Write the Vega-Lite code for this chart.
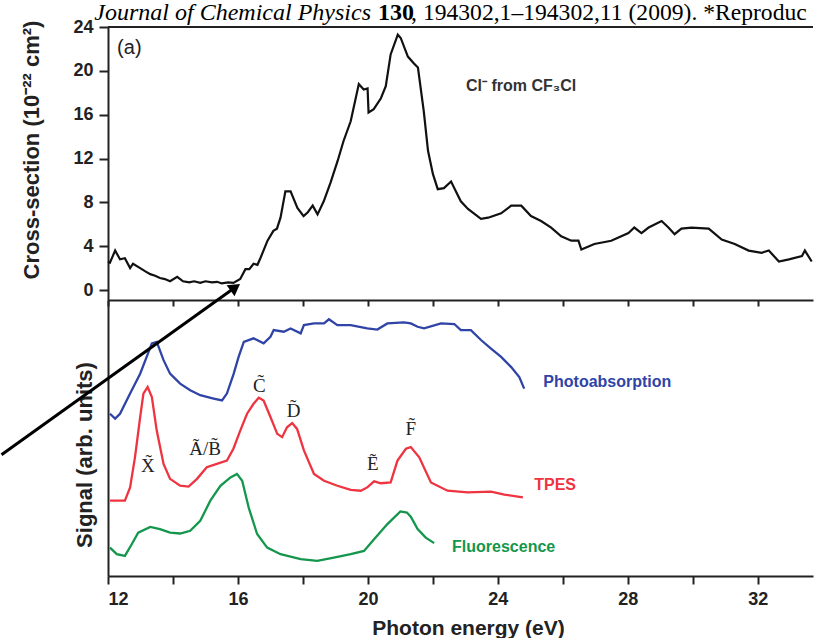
{
  "$schema": "https://vega.github.io/schema/vega-lite/v6.json",
  "background": "white",
  "padding": {"left": -5, "top": 1, "right": 0, "bottom": 0},
  "spacing": 0,
  "bounds": "flush",
  "config": {
    "view": {"stroke": null},
    "axis": {
      "grid": false,
      "domainColor": "#222",
      "domainWidth": 2,
      "tickColor": "#222",
      "tickWidth": 2,
      "labelFont": "Liberation Sans",
      "labelFontWeight": "bold",
      "labelFontSize": 18,
      "labelColor": "#222",
      "titleFont": "Liberation Sans",
      "titleFontWeight": "bold",
      "titleFontSize": 22,
      "titleColor": "#222"
    },
    "text": {"font": "Liberation Sans"}
  },
  "datasets": {
    "cs": [
      {"x": 12.0, "y": 2.6}, {"x": 12.06, "y": 2.5}, {"x": 12.22, "y": 3.6}, {"x": 12.37, "y": 2.8},
      {"x": 12.52, "y": 2.9}, {"x": 12.68, "y": 2.0}, {"x": 12.77, "y": 2.4}, {"x": 12.99, "y": 2.0},
      {"x": 13.15, "y": 1.7}, {"x": 13.3, "y": 1.45}, {"x": 13.45, "y": 1.3}, {"x": 13.6, "y": 1.1},
      {"x": 13.75, "y": 1.0}, {"x": 13.91, "y": 0.8}, {"x": 14.13, "y": 1.2}, {"x": 14.31, "y": 0.8},
      {"x": 14.5, "y": 0.7}, {"x": 14.65, "y": 0.8}, {"x": 14.84, "y": 0.65}, {"x": 15.0, "y": 0.8},
      {"x": 15.2, "y": 0.7}, {"x": 15.36, "y": 0.75}, {"x": 15.5, "y": 0.6}, {"x": 15.7, "y": 0.7},
      {"x": 15.86, "y": 0.65}, {"x": 16.07, "y": 1.0}, {"x": 16.23, "y": 1.9}, {"x": 16.35, "y": 1.9},
      {"x": 16.48, "y": 2.4}, {"x": 16.6, "y": 2.3}, {"x": 16.69, "y": 2.9}, {"x": 16.91, "y": 4.5},
      {"x": 17.09, "y": 5.4}, {"x": 17.2, "y": 5.6}, {"x": 17.31, "y": 6.6}, {"x": 17.46, "y": 9.0},
      {"x": 17.62, "y": 9.0}, {"x": 17.83, "y": 7.5}, {"x": 18.02, "y": 6.75}, {"x": 18.15, "y": 7.1},
      {"x": 18.3, "y": 7.7}, {"x": 18.45, "y": 6.9}, {"x": 18.64, "y": 8.1}, {"x": 18.85, "y": 9.8},
      {"x": 19.07, "y": 11.8}, {"x": 19.25, "y": 13.6}, {"x": 19.47, "y": 15.4}, {"x": 19.72, "y": 18.8},
      {"x": 19.87, "y": 18.3}, {"x": 19.99, "y": 18.4}, {"x": 20.02, "y": 16.2}, {"x": 20.18, "y": 16.5},
      {"x": 20.4, "y": 17.5}, {"x": 20.55, "y": 18.6}, {"x": 20.7, "y": 21.5}, {"x": 20.92, "y": 23.3},
      {"x": 21.01, "y": 23.0}, {"x": 21.23, "y": 21.3}, {"x": 21.41, "y": 20.7}, {"x": 21.54, "y": 20.3},
      {"x": 21.72, "y": 16.3}, {"x": 21.85, "y": 12.7}, {"x": 22.0, "y": 10.6}, {"x": 22.15, "y": 9.2},
      {"x": 22.34, "y": 9.3}, {"x": 22.56, "y": 9.9}, {"x": 22.71, "y": 9.0}, {"x": 22.86, "y": 8.1},
      {"x": 23.08, "y": 7.4}, {"x": 23.48, "y": 6.5}, {"x": 23.7, "y": 6.6}, {"x": 24.1, "y": 7.0},
      {"x": 24.41, "y": 7.7}, {"x": 24.72, "y": 7.7}, {"x": 25.02, "y": 6.75}, {"x": 25.33, "y": 6.3},
      {"x": 25.64, "y": 5.7}, {"x": 25.95, "y": 4.9}, {"x": 26.26, "y": 4.5}, {"x": 26.48, "y": 4.5},
      {"x": 26.57, "y": 3.7}, {"x": 26.97, "y": 4.2}, {"x": 27.49, "y": 4.5}, {"x": 28.02, "y": 5.2},
      {"x": 28.2, "y": 5.7}, {"x": 28.42, "y": 5.2}, {"x": 28.64, "y": 5.7}, {"x": 29.04, "y": 6.3},
      {"x": 29.25, "y": 5.7}, {"x": 29.44, "y": 5.1}, {"x": 29.65, "y": 5.6}, {"x": 29.96, "y": 5.7},
      {"x": 30.49, "y": 5.6}, {"x": 30.89, "y": 4.6}, {"x": 31.29, "y": 4.2}, {"x": 31.72, "y": 3.6},
      {"x": 32.12, "y": 3.4}, {"x": 32.34, "y": 3.6}, {"x": 32.65, "y": 2.6}, {"x": 32.96, "y": 2.8},
      {"x": 33.36, "y": 3.1}, {"x": 33.45, "y": 3.6}, {"x": 33.66, "y": 2.6}
    ],
    "sig": [
      {"series": "Photoabsorption", "x": 12.06, "y": 58.8}, {"series": "Photoabsorption", "x": 12.22, "y": 57.0},
      {"series": "Photoabsorption", "x": 12.37, "y": 58.8}, {"series": "Photoabsorption", "x": 12.68, "y": 66.1},
      {"series": "Photoabsorption", "x": 12.99, "y": 73.3}, {"series": "Photoabsorption", "x": 13.19, "y": 79.4},
      {"series": "Photoabsorption", "x": 13.35, "y": 84.3}, {"series": "Photoabsorption", "x": 13.5, "y": 84.8},
      {"series": "Photoabsorption", "x": 13.71, "y": 78.2}, {"series": "Photoabsorption", "x": 13.91, "y": 73.3},
      {"series": "Photoabsorption", "x": 14.22, "y": 69.7}, {"series": "Photoabsorption", "x": 14.53, "y": 67.3},
      {"series": "Photoabsorption", "x": 14.84, "y": 65.5}, {"series": "Photoabsorption", "x": 15.25, "y": 64.3},
      {"series": "Photoabsorption", "x": 15.51, "y": 63.6}, {"series": "Photoabsorption", "x": 15.66, "y": 66.1},
      {"series": "Photoabsorption", "x": 15.87, "y": 73.3}, {"series": "Photoabsorption", "x": 16.02, "y": 79.4},
      {"series": "Photoabsorption", "x": 16.18, "y": 84.8}, {"series": "Photoabsorption", "x": 16.48, "y": 86.1},
      {"series": "Photoabsorption", "x": 16.79, "y": 84.3}, {"series": "Photoabsorption", "x": 17.0, "y": 86.7},
      {"series": "Photoabsorption", "x": 17.1, "y": 89.1}, {"series": "Photoabsorption", "x": 17.41, "y": 88.5},
      {"series": "Photoabsorption", "x": 17.62, "y": 89.7}, {"series": "Photoabsorption", "x": 17.93, "y": 87.9},
      {"series": "Photoabsorption", "x": 18.03, "y": 90.9}, {"series": "Photoabsorption", "x": 18.34, "y": 91.5},
      {"series": "Photoabsorption", "x": 18.65, "y": 91.5}, {"series": "Photoabsorption", "x": 18.8, "y": 93.0},
      {"series": "Photoabsorption", "x": 19.06, "y": 90.9}, {"series": "Photoabsorption", "x": 19.47, "y": 90.9},
      {"series": "Photoabsorption", "x": 19.98, "y": 89.7}, {"series": "Photoabsorption", "x": 20.29, "y": 89.3},
      {"series": "Photoabsorption", "x": 20.6, "y": 91.5}, {"series": "Photoabsorption", "x": 21.11, "y": 91.9},
      {"series": "Photoabsorption", "x": 21.32, "y": 91.5}, {"series": "Photoabsorption", "x": 21.53, "y": 90.3},
      {"series": "Photoabsorption", "x": 21.73, "y": 89.7}, {"series": "Photoabsorption", "x": 22.25, "y": 91.5},
      {"series": "Photoabsorption", "x": 22.66, "y": 91.3}, {"series": "Photoabsorption", "x": 22.86, "y": 89.1},
      {"series": "Photoabsorption", "x": 23.17, "y": 89.1}, {"series": "Photoabsorption", "x": 23.48, "y": 85.5},
      {"series": "Photoabsorption", "x": 23.79, "y": 82.4}, {"series": "Photoabsorption", "x": 24.1, "y": 79.4},
      {"series": "Photoabsorption", "x": 24.41, "y": 75.7}, {"series": "Photoabsorption", "x": 24.66, "y": 72.1},
      {"series": "Photoabsorption", "x": 24.81, "y": 67.9},
      {"series": "TPES", "x": 12.06, "y": 27.3}, {"series": "TPES", "x": 12.52, "y": 27.3},
      {"series": "TPES", "x": 12.68, "y": 32.1}, {"series": "TPES", "x": 12.83, "y": 43.0},
      {"series": "TPES", "x": 12.99, "y": 57.6}, {"series": "TPES", "x": 13.09, "y": 66.1},
      {"series": "TPES", "x": 13.22, "y": 68.5}, {"series": "TPES", "x": 13.35, "y": 64.8},
      {"series": "TPES", "x": 13.5, "y": 52.7}, {"series": "TPES", "x": 13.71, "y": 40.6},
      {"series": "TPES", "x": 13.91, "y": 35.2}, {"series": "TPES", "x": 14.22, "y": 32.7},
      {"series": "TPES", "x": 14.48, "y": 32.4}, {"series": "TPES", "x": 14.74, "y": 35.2},
      {"series": "TPES", "x": 15.04, "y": 39.4}, {"series": "TPES", "x": 15.35, "y": 40.6},
      {"series": "TPES", "x": 15.66, "y": 41.8}, {"series": "TPES", "x": 15.86, "y": 46.1},
      {"series": "TPES", "x": 16.07, "y": 52.7}, {"series": "TPES", "x": 16.28, "y": 58.8},
      {"series": "TPES", "x": 16.48, "y": 62.4}, {"series": "TPES", "x": 16.64, "y": 64.6},
      {"series": "TPES", "x": 16.79, "y": 63.6}, {"series": "TPES", "x": 17.0, "y": 57.6},
      {"series": "TPES", "x": 17.21, "y": 51.5}, {"series": "TPES", "x": 17.36, "y": 50.3},
      {"series": "TPES", "x": 17.51, "y": 53.9}, {"series": "TPES", "x": 17.67, "y": 55.4},
      {"series": "TPES", "x": 17.82, "y": 53.3}, {"series": "TPES", "x": 18.03, "y": 45.5},
      {"series": "TPES", "x": 18.34, "y": 37.0}, {"series": "TPES", "x": 18.65, "y": 34.5},
      {"series": "TPES", "x": 19.06, "y": 32.7}, {"series": "TPES", "x": 19.47, "y": 31.2},
      {"series": "TPES", "x": 19.78, "y": 30.9}, {"series": "TPES", "x": 19.98, "y": 32.1},
      {"series": "TPES", "x": 20.19, "y": 34.3}, {"series": "TPES", "x": 20.4, "y": 33.6},
      {"series": "TPES", "x": 20.7, "y": 33.9}, {"series": "TPES", "x": 20.91, "y": 41.8},
      {"series": "TPES", "x": 21.17, "y": 46.1}, {"series": "TPES", "x": 21.32, "y": 46.7},
      {"series": "TPES", "x": 21.58, "y": 43.0}, {"series": "TPES", "x": 21.94, "y": 33.9},
      {"series": "TPES", "x": 22.45, "y": 30.9}, {"series": "TPES", "x": 23.07, "y": 30.3},
      {"series": "TPES", "x": 23.79, "y": 30.6}, {"series": "TPES", "x": 24.2, "y": 29.5},
      {"series": "TPES", "x": 24.77, "y": 28.5},
      {"series": "Fluorescence", "x": 12.06, "y": 10.3}, {"series": "Fluorescence", "x": 12.27, "y": 7.9},
      {"series": "Fluorescence", "x": 12.52, "y": 7.3}, {"series": "Fluorescence", "x": 12.73, "y": 11.5},
      {"series": "Fluorescence", "x": 12.93, "y": 15.7}, {"series": "Fluorescence", "x": 13.3, "y": 17.8},
      {"series": "Fluorescence", "x": 13.6, "y": 17.0}, {"series": "Fluorescence", "x": 13.91, "y": 15.7},
      {"series": "Fluorescence", "x": 14.22, "y": 15.4}, {"series": "Fluorescence", "x": 14.53, "y": 16.4},
      {"series": "Fluorescence", "x": 14.84, "y": 20.0}, {"series": "Fluorescence", "x": 15.15, "y": 27.3},
      {"series": "Fluorescence", "x": 15.46, "y": 32.7}, {"series": "Fluorescence", "x": 15.77, "y": 35.7},
      {"series": "Fluorescence", "x": 15.97, "y": 37.0}, {"series": "Fluorescence", "x": 16.13, "y": 34.5},
      {"series": "Fluorescence", "x": 16.33, "y": 24.8}, {"series": "Fluorescence", "x": 16.59, "y": 15.2},
      {"series": "Fluorescence", "x": 16.9, "y": 10.3}, {"series": "Fluorescence", "x": 17.31, "y": 7.9},
      {"series": "Fluorescence", "x": 17.93, "y": 6.1}, {"series": "Fluorescence", "x": 18.44, "y": 5.5},
      {"series": "Fluorescence", "x": 18.95, "y": 6.7}, {"series": "Fluorescence", "x": 19.47, "y": 7.9},
      {"series": "Fluorescence", "x": 19.88, "y": 9.1}, {"series": "Fluorescence", "x": 20.19, "y": 13.3},
      {"series": "Fluorescence", "x": 20.6, "y": 18.8}, {"series": "Fluorescence", "x": 21.0, "y": 23.4},
      {"series": "Fluorescence", "x": 21.2, "y": 23.0}, {"series": "Fluorescence", "x": 21.32, "y": 21.5},
      {"series": "Fluorescence", "x": 21.53, "y": 17.0}, {"series": "Fluorescence", "x": 21.78, "y": 13.9},
      {"series": "Fluorescence", "x": 22.04, "y": 11.9}
    ]
  },
  "vconcat": [
    {
      "width": 705,
      "height": 273,
      "encoding": {
        "x": {
          "field": "x", "type": "quantitative",
          "scale": {"domain": [12, 33.7], "nice": false, "zero": false},
          "axis": {"orient": "bottom", "values": [12, 14, 16, 18, 20, 22, 24, 26, 28, 30, 32], "labels": false, "tickSize": 6, "title": null}
        },
        "y": {
          "field": "y", "type": "quantitative",
          "scale": {"domain": [-0.91, 24], "nice": false, "zero": false},
          "axis": {"values": [0, 4, 8, 12, 16, 20, 24], "tickSize": 9, "labelPadding": 6,
            "title": "Cross-section (10⁻²² cm²)", "titleX": -77, "titleY": 122.5, "titleAngle": 270, "titleAlign": "center", "titleBaseline": "middle"}
        }
      },
      "layer": [
        {"data": {"name": "cs"}, "mark": {"type": "line", "color": "#111", "strokeWidth": 2.2}},
        {"data": {"values": [{"x": 12, "x2": 33.7, "y": 24}]}, "mark": {"type": "rule", "color": "#222", "strokeWidth": 2}, "encoding": {"x2": {"field": "x2"}}},
        {"data": {"values": [{"x": 12.28, "y": 22.09, "t": "(a)"}]}, "mark": {"type": "text", "align": "left", "baseline": "middle", "fontSize": 20, "color": "#222"}, "encoding": {"text": {"field": "t"}}},
        {"data": {"values": [{"x": 23.02, "y": 18.62, "t": "Cl⁻ from CF₃Cl"}]}, "mark": {"type": "text", "align": "left", "baseline": "middle", "fontSize": 16, "fontWeight": "bold", "color": "#333"}, "encoding": {"text": {"field": "t"}}},
        {"data": {"values": [{"x": 11.58, "y": 24.62, "t": "Journal of Chemical Physics"}]}, "mark": {"type": "text", "align": "left", "baseline": "alphabetic", "font": "Liberation Serif", "fontStyle": "italic", "fontSize": 24, "color": "#000"}, "encoding": {"text": {"field": "t"}}},
        {"data": {"values": [{"x": 20.31, "y": 24.62, "t": "130"}]}, "mark": {"type": "text", "align": "left", "baseline": "alphabetic", "font": "Liberation Serif", "fontWeight": "bold", "fontSize": 24, "color": "#000"}, "encoding": {"text": {"field": "t"}}},
        {"data": {"values": [{"x": 21.33, "y": 24.62, "t": ", 194302,1–194302,11 (2009). *Reproduc"}]}, "mark": {"type": "text", "align": "left", "baseline": "alphabetic", "font": "Liberation Serif", "fontSize": 23.6, "color": "#000"}, "encoding": {"text": {"field": "t"}}}
      ]
    },
    {
      "width": 705,
      "height": 276,
      "encoding": {
        "x": {
          "field": "x", "type": "quantitative",
          "scale": {"domain": [12, 33.7], "nice": false, "zero": false},
          "axis": {"values": [12, 14, 16, 18, 20, 22, 24, 26, 28, 30, 32], "labelExpr": "datum.value % 4 === 0 ? datum.label : ''",
            "tickSize": 8, "labelPadding": 6, "title": "Photon energy (eV)", "titleFontSize": 21, "titleX": 360, "titleY": 52, "titleAlign": "center", "titleBaseline": "middle"}
        },
        "y": {
          "field": "y", "type": "quantitative",
          "scale": {"domain": [0, 100], "nice": false, "zero": false},
          "axis": {"ticks": false, "labels": false, "title": "Signal (arb. units)", "titleX": -24, "titleY": 154.5, "titleAngle": 270, "titleAlign": "center", "titleBaseline": "middle"}
        }
      },
      "layer": [
        {
          "data": {"name": "sig"},
          "mark": {"type": "line", "strokeWidth": 2.3},
          "encoding": {
            "color": {"field": "series", "type": "nominal", "legend": null,
              "scale": {"domain": ["Photoabsorption", "TPES", "Fluorescence"], "range": ["#2f44a6", "#ee3440", "#14964c"]}},
            "detail": {"field": "series"}
          }
        },
        {
          "data": {"values": [
            {"x": 25.4, "y": 70.3, "series": "Photoabsorption"},
            {"x": 25.12, "y": 33.0, "series": "TPES"},
            {"x": 22.59, "y": 10.5, "series": "Fluorescence"}
          ]},
          "mark": {"type": "text", "align": "left", "baseline": "middle", "fontSize": 16, "fontWeight": "bold"},
          "encoding": {
            "text": {"field": "series"},
            "color": {"field": "series", "type": "nominal", "legend": null,
              "scale": {"domain": ["Photoabsorption", "TPES", "Fluorescence"], "range": ["#2f44a6", "#ee3440", "#14964c"]}}
          }
        },
        {
          "data": {"values": [
            {"x": 13.23, "y": 39.9, "t": "X\u0303"},
            {"x": 14.99, "y": 46.0, "t": "A\u0303/B\u0303"},
            {"x": 16.66, "y": 68.8, "t": "C\u0303"},
            {"x": 17.71, "y": 59.8, "t": "D\u0303"},
            {"x": 20.15, "y": 40.6, "t": "E\u0303"},
            {"x": 21.32, "y": 53.3, "t": "F\u0303"}
          ]},
          "mark": {"type": "text", "align": "center", "baseline": "middle", "font": "Liberation Serif", "fontSize": 19, "color": "#222"},
          "encoding": {"text": {"field": "t"}}
        },
        {
          "data": {"values": [{"x": 8.722, "y": 43.9}, {"x": 15.918, "y": 104.6}]},
          "mark": {"type": "line", "color": "#000", "strokeWidth": 3, "clip": false}
        },
        {
          "data": {"values": [{"x": 15.918, "y": 104.6}]},
          "mark": {"type": "point", "shape": "triangle-up", "filled": true, "color": "#000", "opacity": 1, "size": 180, "angle": 54, "clip": false}
        }
      ]
    }
  ]
}
